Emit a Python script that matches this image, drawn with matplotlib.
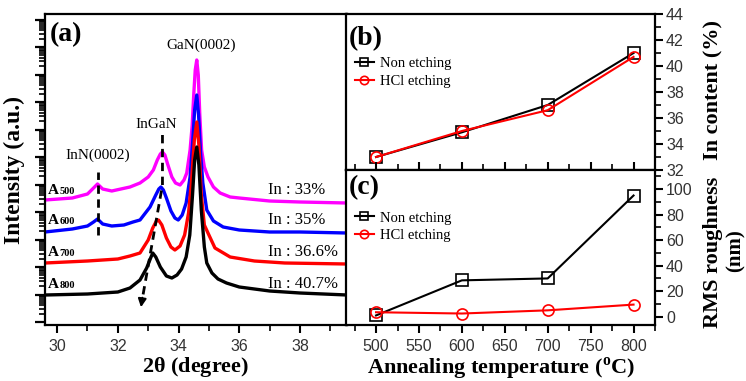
import numpy as np
import matplotlib
matplotlib.use("Agg")
import matplotlib.pyplot as plt
from matplotlib.ticker import MultipleLocator, FixedLocator, NullFormatter

plt.rcParams['font.family'] = ['Liberation Serif', 'DejaVu Serif']
plt.rcParams['mathtext.fontset'] = 'custom'
plt.rcParams['mathtext.rm'] = 'Liberation Serif:bold'

# ---- panel (a): XRD scans, intensity in arbitrary units (stacked) ----
theta_a500 = [29.6, 30.5, 31.0, 31.2, 31.33, 31.5, 31.8, 32.1, 32.4, 32.73, 33.0, 33.17, 33.3, 33.4,
              33.47, 33.55, 33.65, 33.78, 33.9, 34.05, 34.18, 34.27, 34.38, 34.45, 34.5, 34.55,
              34.6, 34.65, 34.7, 34.76, 34.85, 34.97, 35.15, 35.37, 35.7, 36.0, 37.0, 38.0, 39.55]
int_a500 = [125, 127, 131, 137, 141, 136, 134, 136, 138, 142, 148, 155, 165, 171,
            173, 170, 160, 148, 142, 140, 145, 152, 175, 200, 230, 255,
            265, 250, 210, 175, 158, 148, 138, 132, 128, 127, 124, 123, 122]

theta_a600 = [29.6, 30.5, 31.0, 31.2, 31.33, 31.5, 31.8, 32.2, 32.5, 32.73, 33.06, 33.25, 33.35,
              33.42, 33.5, 33.6, 33.75, 33.88, 33.99, 34.12, 34.25, 34.38, 34.47, 34.53, 34.6,
              34.66, 34.73, 34.8, 34.93, 35.15, 35.47, 36.0, 37.0, 38.0, 39.55]
int_a600 = [93, 96, 99, 103, 106, 101, 99, 100, 103, 105, 118, 130, 136,
            138, 135, 127, 114, 107, 105, 110, 122, 148, 185, 215, 230,
            210, 170, 142, 115, 104, 98, 95, 93, 93, 92]

theta_a700 = [29.6, 31.0, 32.0, 32.4, 32.73, 33.0, 33.15, 33.27, 33.34, 33.45, 33.6, 33.75, 33.88,
              34.05, 34.2, 34.33, 34.43, 34.52, 34.6, 34.67, 34.75, 34.85, 34.97, 35.2, 35.7,
              36.5, 37.5, 39.55]
int_a700 = [62, 64, 66, 69, 72, 85, 97, 104, 105, 100, 87, 78, 75,
            79, 90, 112, 145, 185, 203, 180, 130, 100, 92, 77, 68,
            64, 62, 61]

theta_a800 = [29.6, 31.0, 32.0, 32.4, 32.73, 32.95, 33.08, 33.15, 33.25, 33.4, 33.6, 33.78, 33.95,
              34.1, 34.25, 34.37, 34.46, 34.53, 34.6, 34.67, 34.75, 34.85, 34.93, 35.1, 35.3,
              35.58, 36.0, 37.0, 38.0, 39.55]
int_a800 = [30, 31, 33, 37, 45, 57, 67, 72, 68, 58, 49, 47, 50,
            56, 68, 90, 130, 165, 178, 160, 115, 78, 62, 52, 46,
            42, 38, 34, 32, 30]

sample_names = ['500', '600', '700', '800']
in_labels = ['In : 33%', 'In : 35%', 'In : 36.6%', 'In : 40.7%']
label_heights = [131, 101, 69, 37]

# ---- panels (b) and (c) ----
temperature = [500, 600, 700, 800]
in_non = [33.0, 34.9, 37.0, 41.0]
in_hcl = [33.0, 35.0, 36.6, 40.7]
rms_non = [1.0, 28.5, 30.0, 95.0]
rms_hcl = [3.5, 2.5, 5.0, 9.5]

W, H = 746, 381
fig = plt.figure(figsize=(W / 100, H / 100), dpi=100)

def rect(x0, y0, x1, y1):
    return [x0 / W, 1 - y1 / H, (x1 - x0) / W, (y1 - y0) / H]

ax_a = fig.add_axes(rect(45, 14, 347, 325))
ax_b = fig.add_axes(rect(346, 14, 655, 170))
ax_c = fig.add_axes(rect(346, 170, 655, 325))

for ax in (ax_a, ax_b, ax_c):
    for s in ax.spines.values():
        s.set_linewidth(1.6)

tick_font = dict(family=['Liberation Sans', 'DejaVu Sans'], size=11.5, color='#333333')

# (a)
curves = [(theta_a500, int_a500, '#ff00ff'), (theta_a600, int_a600, '#0000ff'),
          (theta_a700, int_a700, '#ff0000'), (theta_a800, int_a800, 'black')]
for th, it, c in curves:
    ax_a.plot(th, it, color=c, lw=2.4)
ax_a.set_xlim(29.6, 39.55)
ax_a.set_ylim(0, 311)
ax_a.xaxis.set_major_locator(MultipleLocator(2))
ax_a.xaxis.set_minor_locator(MultipleLocator(1))
majors = np.arange(3, 311, 27.5)
minors = np.concatenate([m + 27.5 * np.log10(np.arange(2, 10)) for m in majors])
ax_a.yaxis.set_major_locator(FixedLocator(majors))
ax_a.yaxis.set_minor_locator(FixedLocator(minors[minors < 311]))
ax_a.yaxis.set_major_formatter(NullFormatter())
ax_a.tick_params(axis='y', which='major', length=7, width=1.6, direction='out')
ax_a.tick_params(axis='y', which='minor', length=4, width=1.2, direction='out')
ax_a.tick_params(axis='x', which='major', length=6, width=1.5, direction='out', pad=4)
ax_a.tick_params(axis='x', which='minor', length=4, width=1.2, direction='out')
for lab in ax_a.get_xticklabels():
    lab.set(**tick_font)
ax_a.set_xlabel(r'2$\mathrm{\theta}$ (degree)', fontsize=16, fontweight='bold', labelpad=1)
ax_a.set_ylabel('Intensity (a.u.)', fontsize=17, fontweight='bold', labelpad=4)
ax_a.text(29.75, 290, '(a)', fontsize=20, fontweight='bold', va='center')
ax_a.text(34.75, 280, 'GaN(0002)', fontsize=11, ha='center', va='center')
ax_a.text(33.25, 201, 'InGaN', fontsize=11, ha='center', va='center')
ax_a.text(31.35, 170, 'InN(0002)', fontsize=11, ha='center', va='center')
ax_a.plot([31.33, 31.33], [90, 153], color='black', ls=(0, (3, 2)), lw=2)
ax_a.plot([33.47, 33.47, 32.8], [190, 140, 25], color='black', ls=(0, (3, 2)), lw=2)
ax_a.annotate('', xy=(32.75, 15), xytext=(32.82, 30),
              arrowprops=dict(arrowstyle='-|>', color='black', lw=1.5, mutation_scale=12))
for name, lab, h in zip(sample_names, in_labels, label_heights):
    ax_a.annotate('A', xy=(29.7, h), fontsize=11, fontweight='bold', va='baseline')
    ax_a.annotate(name, xy=(29.7, h), xytext=(8.5, 0), textcoords='offset points',
                  fontsize=7.5, fontweight='bold', va='baseline')
    ax_a.text(36.95, h, lab, fontsize=12, va='baseline')

# (b)
ax_b.plot(temperature, in_non, color='black', marker='s', ms=8, mfc='none', mew=1.2,
          lw=1.5, label='Non etching')
ax_b.plot(temperature, in_hcl, color='red', marker='o', ms=8, mfc='none', mew=1.2,
          lw=1.5, label='HCl etching')
ax_b.set_xlim(465, 825)
ax_b.set_ylim(32, 44)
ax_b.yaxis.tick_right()
ax_b.yaxis.set_major_locator(MultipleLocator(2))
ax_b.yaxis.set_minor_locator(MultipleLocator(1))
ax_b.tick_params(axis='y', which='major', length=6, width=1.5, direction='out', pad=2)
ax_b.tick_params(axis='y', which='minor', length=4, width=1.2, direction='out')
ax_b.tick_params(axis='x', which='both', bottom=False, labelbottom=False)
for lab in ax_b.get_yticklabels():
    lab.set(**tick_font)
ax_b.text(468, 42.1, '(b)', fontsize=20, fontweight='bold', va='center')
ax_b.legend(loc='upper left', bbox_to_anchor=(0.0, 0.78), frameon=False, fontsize=10.5,
            handlelength=1.3, handletextpad=0.4, labelspacing=0.3, borderaxespad=0.2,
            markerscale=0.75)

# (c)
ax_c.plot(temperature, rms_non, color='black', marker='s', ms=8, mfc='none', mew=1.2,
          lw=1.5, label='Non etching')
ax_c.plot(temperature, rms_hcl, color='red', marker='o', ms=8, mfc='none', mew=1.2,
          lw=1.5, label='HCl etching')
ax_c.set_xlim(465, 825)
ax_c.set_ylim(-6.5, 115)
ax_c.yaxis.tick_right()
ax_c.yaxis.set_major_locator(MultipleLocator(20))
ax_c.yaxis.set_minor_locator(MultipleLocator(10))
ax_c.xaxis.set_major_locator(MultipleLocator(50))
ax_c.xaxis.set_minor_locator(MultipleLocator(25))
ax_c.tick_params(axis='y', which='major', length=6, width=1.5, direction='out', pad=2)
ax_c.tick_params(axis='y', which='minor', length=4, width=1.2, direction='out')
ax_c.tick_params(axis='x', which='major', length=6, width=1.5, direction='out', pad=4, top=True)
ax_c.tick_params(axis='x', which='minor', length=4, width=1.2, direction='out', top=True)
for lab in ax_c.get_yticklabels() + ax_c.get_xticklabels():
    lab.set(**tick_font)
ax_c.text(468, 101, '(c)', fontsize=20, fontweight='bold', va='center')
ax_c.legend(loc='upper left', bbox_to_anchor=(0.0, 0.79), frameon=False, fontsize=10.5,
            handlelength=1.3, handletextpad=0.4, labelspacing=0.3, borderaxespad=0.2,
            markerscale=0.75)
ax_c.set_xlabel(r'Annealing temperature ($^{\mathrm{o}}$C)', fontsize=16, fontweight='bold',
                labelpad=1)

fig.text(713 / W, 1 - 90 / H, 'In content (%)', rotation=90, ha='center', va='center',
         fontsize=16, fontweight='bold')
fig.text(713 / W, 1 - 252 / H, 'RMS roughness', rotation=90, ha='center', va='center',
         fontsize=16, fontweight='bold')
fig.text(736 / W, 1 - 251 / H, '(nm)', rotation=90, ha='center', va='center',
         fontsize=15, fontweight='bold')

fig.savefig('out.png', dpi=100)
